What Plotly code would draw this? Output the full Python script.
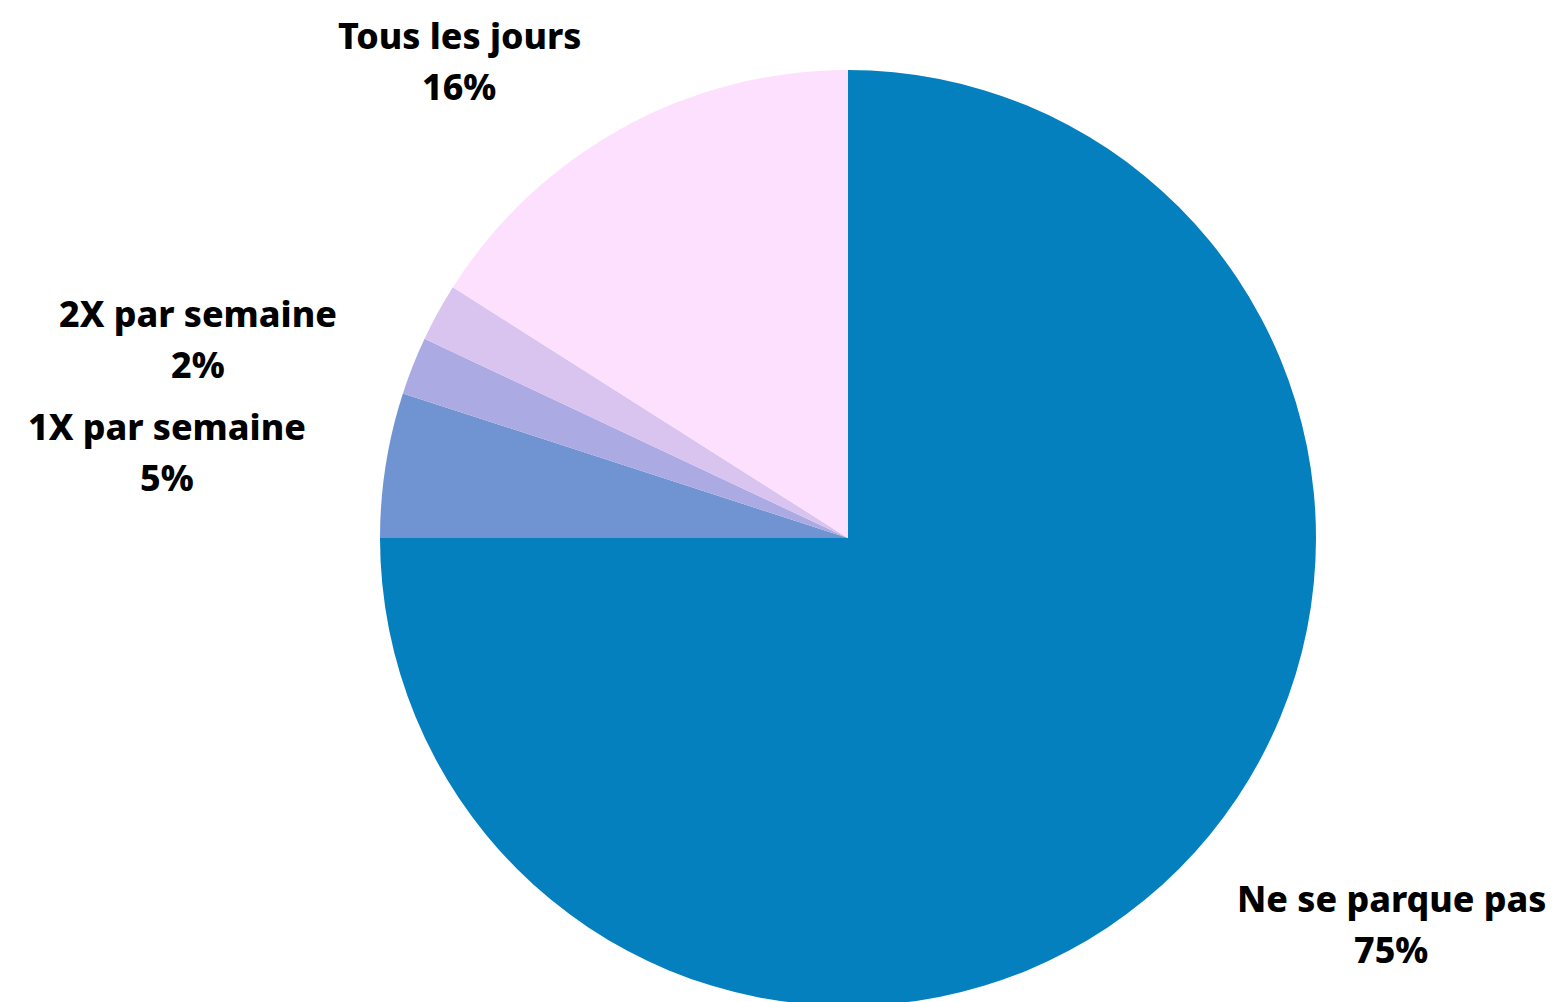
import plotly.graph_objects as go

categories = ["Ne se parque pas", "1X par semaine", "2X par semaine", "3X par semaine", "Tous les jours"]
values = [75, 5, 2, 2, 16]
shown_labels = [True, True, True, False, True]

colors = ["#0480BF", "#7094D2", "#ABAAE2", "#D9C3EF", "#FDE0FD"]

W, H = 1555, 1002
OFF = 8  # page body margin
# label anchor positions (page-pixel centres of the name line), per category
label_pos = {
    "Ne se parque pas": (1391, 898),
    "1X par semaine": (167, 426),
    "2X par semaine": (198, 313),
    "Tous les jours": (459, 35),
}
FONT = "Noto Sans"
FS = 35.7
LINE_GAP = 51

fig = go.Figure()
fig.add_trace(go.Pie(
    labels=categories,
    values=values,
    sort=False,
    direction="clockwise",
    rotation=0,
    marker=dict(colors=colors, line=dict(width=0)),
    textinfo="none",
    hoverinfo="label+percent",
    showlegend=False,
    domain=dict(x=[(380 - OFF) / W, (1316 - OFF) / W], y=[4 / H, 1 - (70 - OFF) / H]),
))

total = sum(values)
annotations = []
for cat, val, show in zip(categories, values, shown_labels):
    if not show:
        continue
    px, py = label_pos[cat]
    pct = f"{round(100 * val / total)}%"
    for i, txt in enumerate([cat, pct]):
        annotations.append(dict(
            x=(px - OFF) / W, y=1 - (py - OFF + i * LINE_GAP) / H,
            xref="paper", yref="paper",
            text=txt, showarrow=False,
            xanchor="center", yanchor="middle",
            font=dict(family=FONT, size=FS, color="#000000", weight=800),
        ))

fig.update_layout(
    width=W, height=H,
    margin=dict(l=0, r=0, t=0, b=0),
    paper_bgcolor="white",
    plot_bgcolor="white",
    annotations=annotations,
)

fig.write_html("out.html")
